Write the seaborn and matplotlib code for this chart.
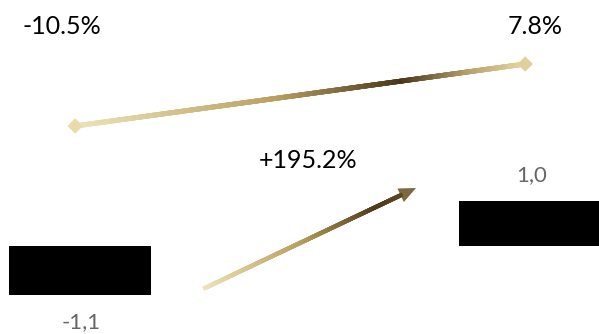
import numpy as np
import pandas as pd
import matplotlib
matplotlib.use("Agg")
import matplotlib.pyplot as plt
import seaborn as sns
from matplotlib.collections import LineCollection
from matplotlib.colors import LinearSegmentedColormap
from matplotlib.patches import Polygon

# ---- data ----
periods = ["P1", "P2"]
bar_values = [-1.1, 1.0]
bar_labels = ["-1,1", "1,0"]
pct_values = [-10.5, 7.8]
pct_labels = ["-10.5%", "7.8%"]
change_label = "+195.2%"

sns.set_theme(style="white")
plt.rcParams["font.family"] = ["Lato", "DejaVu Sans"]

W, H = 599, 334
fig = plt.figure(figsize=(W / 100, H / 100), dpi=100)
fig.patch.set_facecolor("white")

# ---- bars ----
ax = fig.add_axes([0, 0, 1, 1])
df = pd.DataFrame({"period": periods, "value": bar_values})
sns.barplot(data=df, x="period", y="value", color="black", saturation=1,
            width=0.316, edgecolor="none", linewidth=0, ax=ax)
ax.set_xlim(-0.178, 1.153)
ax.set_ylim(-1.956, 5.467)
ax.axis("off")

for i, (v, lab) in enumerate(zip(bar_values, bar_labels)):
    dy = -27 if v < 0 else 26
    ax.annotate(lab, (i, v), xytext=(1, dy), textcoords="offset pixels",
                ha="center", va="center", fontsize=16, fontweight="normal",
                color="#666666")

# ---- percentage line on secondary scale ----
ax2 = ax.twinx()
ax2.set_ylim(-71.89, 26.69)
ax2.axis("off")

line_x = np.arange(len(pct_values)) - 0.011
line_cmap = LinearSegmentedColormap.from_list(
    "gold_line",
    [(0.0, "#EEE4BA"), (0.45, "#B9A060"), (0.73, "#4A3618"),
     (0.88, "#B8A06A"), (1.0, "#E3D5A0")])
t = np.linspace(0, 1, 300)
lx = line_x[0] + t * (line_x[1] - line_x[0])
ly = pct_values[0] + t * (pct_values[1] - pct_values[0])
pts = np.column_stack([lx, ly]).reshape(-1, 1, 2)
segs = np.concatenate([pts[:-1], pts[1:]], axis=1)
lc = LineCollection(segs, cmap=line_cmap, linewidths=3.5,
                    capstyle="projecting")
lc.set_array(t[:-1])
ax2.add_collection(lc)
sns.scatterplot(x=line_x, y=pct_values, marker="D", s=62,
                c=["#E9DCAA", "#E0D09C"], edgecolor="none", ax=ax2, zorder=3)

pct_offsets = [(-13, 100), (10, 38)]
for x, v, lab, off in zip(line_x, pct_values, pct_labels, pct_offsets):
    ax2.annotate(lab, (x, v), xytext=off, textcoords="offset pixels",
                 ha="center", va="center", fontsize=18, color="black")

# ---- change arrow (pixel overlay) ----
ov = fig.add_axes([0, 0, 1, 1], zorder=5)
ov.set_xlim(0, W)
ov.set_ylim(H, 0)
ov.axis("off")
ov.patch.set_alpha(0)

start = np.array([205.0, 288.0])
tip = np.array([416.0, 188.0])
u = (tip - start) / np.linalg.norm(tip - start)
n = np.array([-u[1], u[0]])
head_len, head_half = 17.0, 7.5
base = tip - head_len * u

arrow_cmap = LinearSegmentedColormap.from_list(
    "gold_arrow",
    [(0.0, "#EEE3B8"), (0.5, "#B89E5C"), (0.88, "#4E3A1C"), (1.0, "#5A4524")])
t2 = np.linspace(0, 1, 200)
ax_pts = start[None, :] + t2[:, None] * (base - start)[None, :]
ap = ax_pts.reshape(-1, 1, 2)
asegs = np.concatenate([ap[:-1], ap[1:]], axis=1)
alc = LineCollection(asegs, cmap=arrow_cmap, linewidths=3.0,
                     capstyle="projecting")
alc.set_array(t2[:-1])
ov.add_collection(alc)
ov.add_patch(Polygon([tip, base + head_half * n, base - head_half * n],
                     closed=True, facecolor="#7E6840", edgecolor="none"))

ov.text(308, 160, change_label, ha="center", va="center", fontsize=18,
        color="black")

fig.savefig("out.png", dpi=100, facecolor="white")
